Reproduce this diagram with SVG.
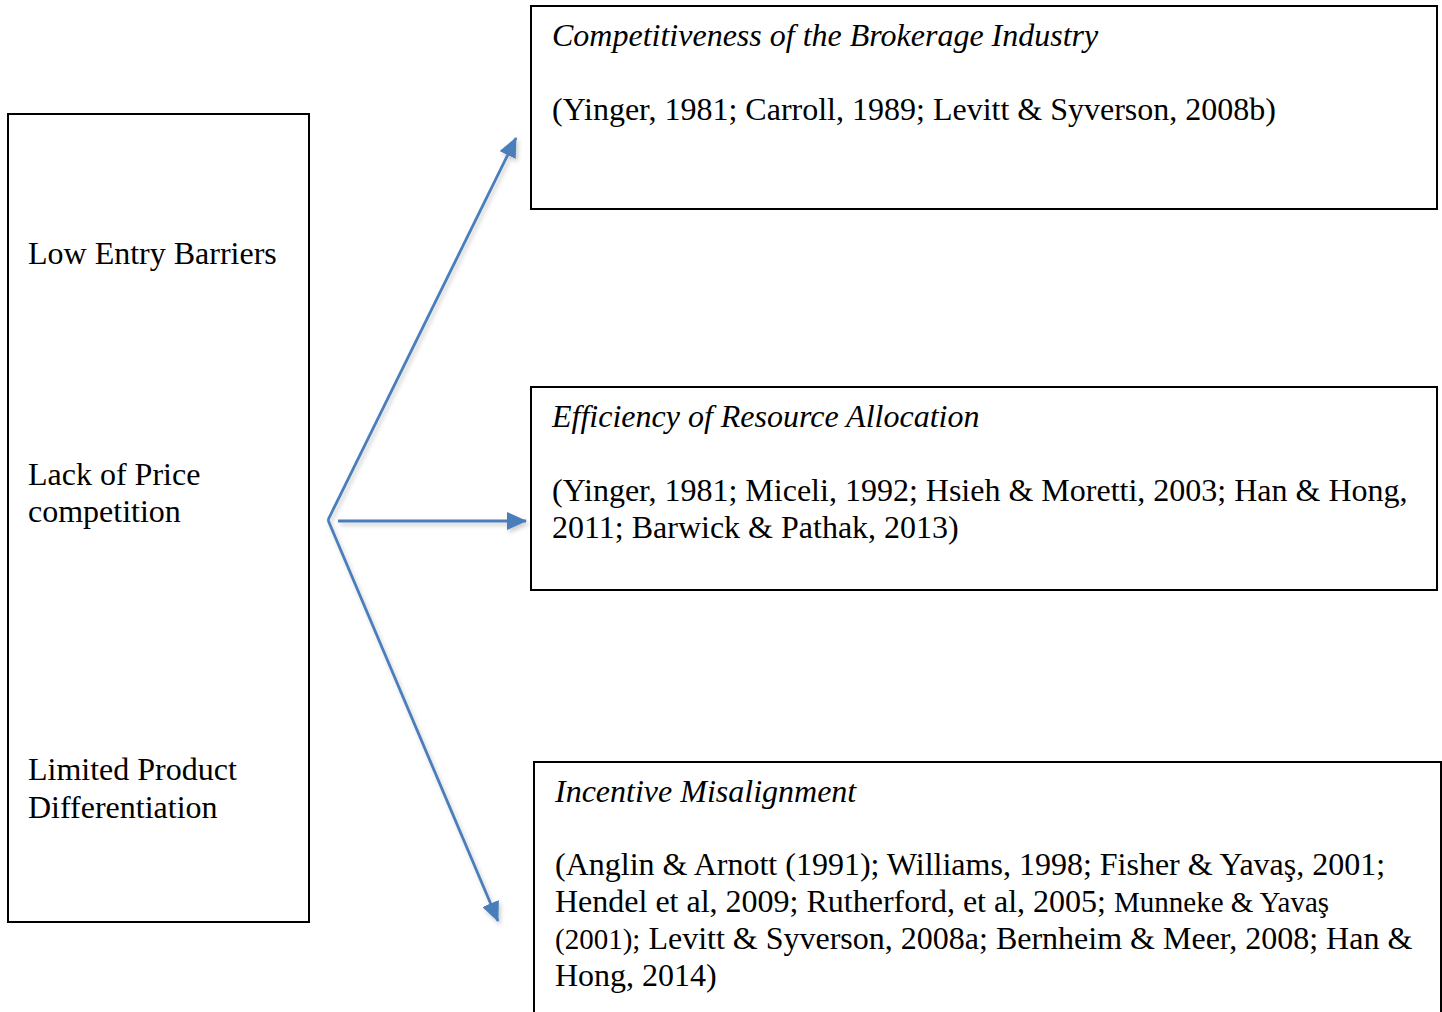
<svg xmlns="http://www.w3.org/2000/svg" width="1442" height="1012" viewBox="0 0 1442 1012">
<style>
.box{fill:#fff;stroke:#000;stroke-width:2}
.t{font-family:"Liberation Serif","Times New Roman",serif;font-size:32px;fill:#000}
.i{font-style:italic}
.s{font-size:29px}
.c{fill:none;stroke:#4A7EBB;stroke-width:2.8;stroke-linejoin:miter}
</style>
<defs>
<marker id="ah" viewBox="0 0 20 18" refX="19" refY="9" markerWidth="20" markerHeight="18" markerUnits="userSpaceOnUse" orient="auto">
<path d="M0,0 L20,9 L0,18 z" fill="#4A7EBB"/>
</marker>
<filter id="sh" x="-20%" y="-20%" width="140%" height="140%">
<feDropShadow dx="2" dy="3" stdDeviation="2" flood-color="#000" flood-opacity="0.2"/>
</filter>
</defs>
<rect width="1442" height="1012" fill="#fff"/>
<g id="left">
<rect class="box" x="8" y="114" width="301" height="808"/>
<text class="t" x="28" y="264">Low Entry Barriers</text>
<text class="t" x="28" y="485">Lack of Price</text>
<text class="t" x="28" y="522">competition</text>
<text class="t" x="28" y="780">Limited Product</text>
<text class="t" x="28" y="818">Differentiation</text>
</g>
<g id="top">
<rect class="box" x="531" y="6" width="906" height="203"/>
<text class="t i" x="552" y="46">Competitiveness of the Brokerage Industry</text>
<text class="t" x="552" y="120">(Yinger, 1981; Carroll, 1989; Levitt &amp; Syverson, 2008b)</text>
</g>
<g id="middle">
<rect class="box" x="531" y="387" width="906" height="203"/>
<text class="t i" x="552" y="427">Efficiency of Resource Allocation</text>
<text class="t" x="552" y="501">(Yinger, 1981; Miceli, 1992; Hsieh &amp; Moretti, 2003; Han &amp; Hong,</text>
<text class="t" x="552" y="538">2011; Barwick &amp; Pathak, 2013)</text>
</g>
<g id="bottom">
<rect class="box" x="534" y="762" width="907" height="270"/>
<text class="t i" x="555" y="802">Incentive Misalignment</text>
<text class="t" x="555" y="875">(Anglin &amp; Arnott (1991); Williams, 1998; Fisher &amp; Yavaş, 2001;</text>
<text class="t" x="555" y="912">Hendel et al, 2009; Rutherford, et al, 2005; <tspan class="s">Munneke &amp; Yavaş</tspan></text>
<text class="t" x="555" y="949"><tspan class="s">(2001);</tspan> Levitt &amp; Syverson, 2008a; Bernheim &amp; Meer, 2008; Han &amp;</text>
<text class="t" x="555" y="986">Hong, 2014)</text>
</g>
<g id="connectors" filter="url(#sh)">
<path class="c" d="M328,520 L516,138" marker-end="url(#ah)"/>
<path class="c" d="M328,520 L498,921" marker-end="url(#ah)"/>
<path class="c" d="M338,521 L526,521" marker-end="url(#ah)"/>
</g>
</svg>
